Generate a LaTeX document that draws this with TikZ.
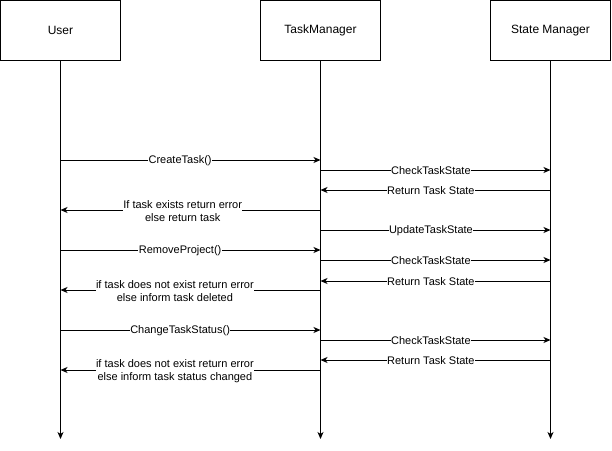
\documentclass[tikz,border=0pt]{standalone}
\usepackage{fontspec}
\setmainfont{Liberation Sans}
\usetikzlibrary{arrows.meta}

\begin{document}
\begin{tikzpicture}[x=1pt,y=-1pt,
	actor/.style={draw, line width=1pt, minimum width=120pt, minimum height=60pt, font=\fontsize{12}{14}\selectfont},
	msg/.style={line width=1pt, -{Stealth[length=7pt,width=6pt,inset=2pt]}},
	lbl/.style={fill=white, inner sep=0.5pt, yshift=-1pt, font=\fontsize{11}{13.5}\selectfont, align=center}]
	\useasboundingbox (0,0) rectangle (612,450);
	\node[actor] (user) at (60.5,30.5) {User};
	\node[actor] (taskmgr) at (320.5,30.5) {TaskManager};
	\node[actor] (statemgr) at (550.5,30.5) {State Manager};
	\coordinate (userend) at (60.5,439);
	\coordinate (taskend) at (320.5,439);
	\coordinate (stateend) at (550.5,439);
	\draw[msg] (user) -- (userend);
	\draw[msg] (taskmgr) -- (taskend);
	\draw[msg] (statemgr) -- (stateend);
	\draw[msg] (user |- 0,160) -- node[lbl, pos=.46] {CreateTask()} (taskmgr |- 0,160);
	\draw[msg] (taskmgr |- 0,170) -- node[lbl, pos=.48] {CheckTaskState} (statemgr |- 0,170);
	\draw[msg] (statemgr |- 0,190) -- node[lbl, pos=.52] {Return Task State} (taskmgr |- 0,190);
	\draw[msg] (taskmgr |- 0,210) -- node[lbl, pos=.53] {If task exists return error\\else return task} (user |- 0,210);
	\draw[msg] (taskmgr |- 0,230) -- node[lbl, pos=.48] {UpdateTaskState} (statemgr |- 0,230);
	\draw[msg] (user |- 0,250) -- node[lbl, pos=.46] {RemoveProject()} (taskmgr |- 0,250);
	\draw[msg] (taskmgr |- 0,260) -- node[lbl, pos=.48] {CheckTaskState} (statemgr |- 0,260);
	\draw[msg] (statemgr |- 0,281) -- node[lbl, pos=.52] {Return Task State} (taskmgr |- 0,281);
	\draw[msg] (taskmgr |- 0,290) -- node[lbl, pos=.56] {if task does not exist return error\\else inform task deleted} (user |- 0,290);
	\draw[msg] (user |- 0,330) -- node[lbl, pos=.46] {ChangeTaskStatus()} (taskmgr |- 0,330);
	\draw[msg] (taskmgr |- 0,340) -- node[lbl, pos=.48] {CheckTaskState} (statemgr |- 0,340);
	\draw[msg] (statemgr |- 0,360) -- node[lbl, pos=.52] {Return Task State} (taskmgr |- 0,360);
	\draw[msg] (taskmgr |- 0,370) -- node[lbl, pos=.56] {if task does not exist return error\\else inform task status changed} (user |- 0,370);
\end{tikzpicture}
\end{document}
